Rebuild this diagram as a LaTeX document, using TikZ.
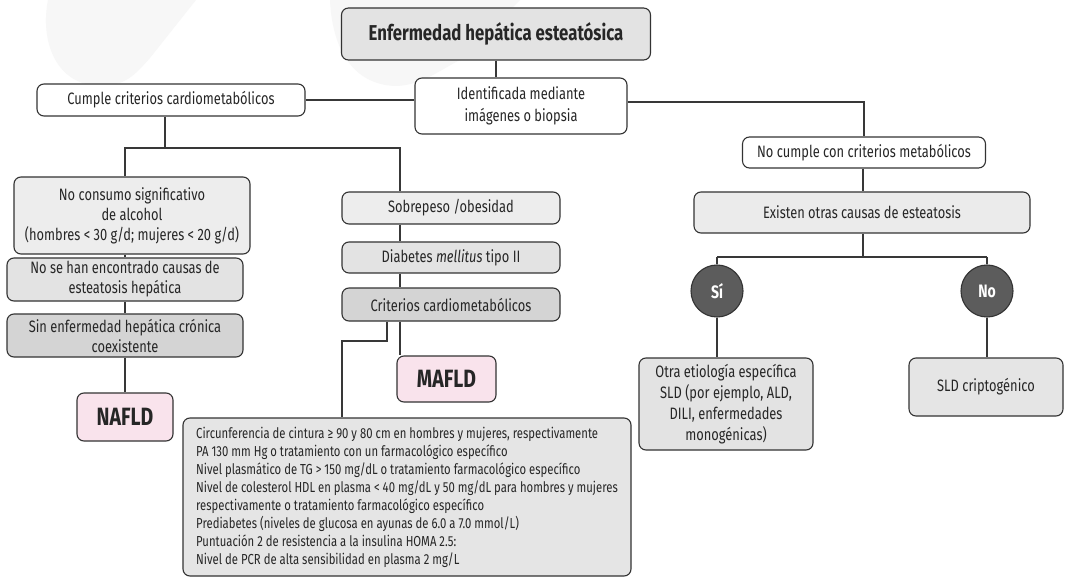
\documentclass[tikz,border=0pt]{standalone}
\usepackage{fontspec}
\setmainfont{Fira Sans}[FakeStretch=0.78]
\begin{document}
\begin{tikzpicture}[x=1pt,y=-1pt,
  linecol/.style={draw=black!78, line width=1.1pt},
  box/.style={draw=black!80, line width=1.1pt, rounded corners=7pt, align=center,
    inner sep=2pt, font=\fontsize{16.5}{20}\selectfont, text=black!85},
  pinkbox/.style={box, fill=pinkfill, font=\fontsize{25}{26}\selectfont\bfseries},
  dot/.style={circle, draw=black!80, line width=1.1pt, fill=black!64, minimum size=52pt,
    inner sep=0pt, text=white, font=\fontsize{18}{19}\selectfont\bfseries}]
\definecolor{pinkfill}{HTML}{F9E3EC}
\definecolor{ghost}{HTML}{F7F7F7}
% canvas
\useasboundingbox (0,0) rectangle (1065,577);
\fill[white] (0,0) rectangle (1065,577);
% faint background watermark
\fill[ghost] (48,0) .. controls (40,40) and (55,85) .. (100,86)
  .. controls (125,86) and (135,75) .. (150,58) -- (196,0) -- cycle;
\fill[ghost] (330,0) .. controls (332,45) and (350,84) .. (395,86)
  .. controls (420,86) and (440,70) .. (460,60) -- (520,0) -- cycle;

% nodes
\node[box, fill=black!11, minimum width=309pt, minimum height=52pt,
  font=\fontsize{21.5}{23}\selectfont\bfseries] (top) at (496,34) {Enfermedad hepática esteatósica};
\node[box, fill=white, minimum width=212pt, minimum height=56pt,
  font=\fontsize{16.5}{21.5}\selectfont] (ident) at (521,106)
  {Identificada mediante\\imágenes o biopsia};
\node[box, fill=white, minimum width=268pt, minimum height=32pt] (cumple) at (171,100)
  {Cumple criterios cardiometabólicos};
\node[box, fill=white, minimum width=243pt, minimum height=31pt] (nocumple) at (864,152.5)
  {No cumple con criterios metabólicos};

\node[box, fill=black!7, minimum width=236pt, minimum height=77pt] (noconsumo) at (132,215.5)
  {No consumo significativo\\de alcohol\\(hombres < 30 g/d; mujeres < 20 g/d)};
\node[box, fill=black!11, minimum width=236pt, minimum height=43pt] (nosehan) at (125,279.5)
  {No se han encontrado causas de\\esteatosis hepática};
\node[box, fill=black!17, minimum width=236pt, minimum height=43pt] (sinenf) at (125,335.5)
  {Sin enfermedad hepática crónica\\coexistente};
\node[pinkbox, minimum width=96pt, minimum height=48pt] (nafld) at (125,417) {NAFLD};

\node[box, fill=black!7, minimum width=218pt, minimum height=32pt] (sobre) at (451,208)
  {Sobrepeso /obesidad};
\node[box, fill=black!11, minimum width=218pt, minimum height=31pt] (diab) at (451,257.5)
  {Diabetes \textit{mellitus} tipo II};
\node[box, fill=black!17, minimum width=218pt, minimum height=33pt] (crit) at (451,304.5)
  {Criterios cardiometabólicos};
\node[pinkbox, minimum width=99pt, minimum height=46pt] (mafld) at (446.5,379) {MAFLD};

\node[box, fill=black!10, minimum width=448pt, minimum height=158pt, align=left,
  font=\fontsize{14.5}{18}\selectfont] (big) at (407,497)
  {Circunferencia de cintura ≥ 90 y 80 cm en hombres y mujeres, respectivamente\\
   PA 130 mm Hg o tratamiento con un farmacológico específico\\
   Nivel plasmático de TG > 150 mg/dL o tratamiento farmacológico específico\\
   Nivel de colesterol HDL en plasma < 40 mg/dL y 50 mg/dL para hombres y mujeres\\
   respectivamente o tratamiento farmacológico específico\\
   Prediabetes (niveles de glucosa en ayunas de 6.0 a 7.0 mmol/L)\\
   Puntuación 2 de resistencia a la insulina HOMA 2.5:\\
   Nivel de PCR de alta sensibilidad en plasma 2 mg/L};

\node[box, fill=black!8, minimum width=336pt, minimum height=41pt] (existen) at (862,212.5)
  {Existen otras causas de esteatosis};
\node[dot] (si) at (717,291) {Sí};
\node[dot] (no) at (987,291) {No};
\node[box, fill=black!11, minimum width=174pt, minimum height=92pt,
  font=\fontsize{16.5}{21}\selectfont] (otra) at (726,404)
  {Otra etiología específica\\SLD (por ejemplo, ALD,\\DILI, enfermedades\\monogénicas)};
\node[box, fill=black!10, minimum width=154pt, minimum height=58pt] (sld) at (986,387)
  {SLD criptogénico};

% junction points
\coordinate (j1) at (165,148);
\coordinate (j1l) at (125,148);
\coordinate (j1r) at (400,148);
\coordinate (k1) at (387,341);
\coordinate (k2) at (342,341);
\coordinate (j3) at (863,257);

% connectors
\draw[linecol] (top.south) -- (top.south |- ident.north);
\draw[linecol] (cumple.east) -- (cumple.east -| ident.west);
\draw[linecol] ([yshift=4pt]ident.east) -| (nocumple.north);
\draw[linecol] (j1 |- cumple.south) -- (j1);
\draw[linecol] (j1l |- noconsumo.north) -- (j1l) -- (j1r) -- (j1r |- sobre.north);
\draw[linecol] (j1l |- noconsumo.south) -- (j1l |- nosehan.north);
\draw[linecol] (j1l |- nosehan.south) -- (j1l |- sinenf.north);
\draw[linecol] (j1l |- sinenf.south) -- (j1l |- nafld.north);
\draw[linecol] (j1r |- sobre.south) -- (j1r |- diab.north);
\draw[linecol] (j1r |- diab.south) -- (j1r |- crit.north);
\draw[linecol] (j1r |- crit.south) -- (j1r |- mafld.north);
\draw[linecol] (k1 |- crit.south) -- (k1) -- (k2) -- (k2 |- big.north);
\draw[linecol] (j3 |- nocumple.south) -- (j3 |- existen.north);
\draw[linecol] (j3 |- existen.south) -- (j3);
\draw[linecol] (si |- j3) -- (no |- j3);
\draw[linecol] (si |- j3) -- (si.north);
\draw[linecol] (no |- j3) -- (no.north);
\draw[linecol] (si.south) -- (si.south |- otra.north);
\draw[linecol] (no.south) -- (no.south |- sld.north);
\end{tikzpicture}
\end{document}
